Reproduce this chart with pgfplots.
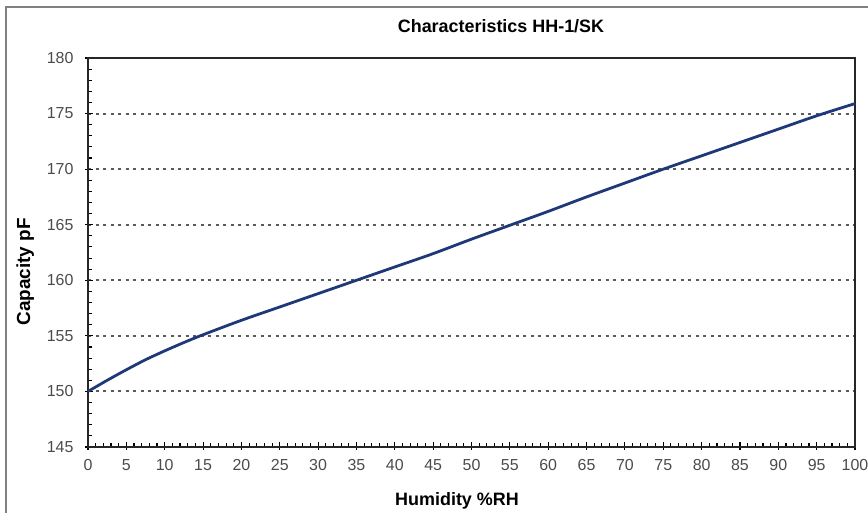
\documentclass[border=0pt]{standalone}
\usepackage{fontspec}
\setmainfont{Liberation Sans}
\usepackage{pgfplots}
\pgfplotsset{compat=1.18}
\definecolor{curve}{RGB}{31,56,120}
\definecolor{tickgray}{RGB}{75,75,75}
\definecolor{framegray}{RGB}{128,128,128}
\definecolor{gridgray}{RGB}{90,90,90}
\begin{document}
\begin{tikzpicture}[x=1bp,y=1bp]
\path[use as bounding box] (0,0) rectangle (868,-513);
\draw[line width=2bp, color=framegray] (6,-513) -- (6,-7) -- (868,-7);
\begin{axis}[
  at={(88bp,-447bp)}, anchor=south west,
  scale only axis, width=767bp, height=389bp,
  xmin=0, xmax=100, ymin=145, ymax=180,
  xtick={0,5,...,100}, ytick={145,150,...,180},
  minor x tick num=4, minor y tick num=4,
  tick pos=left, tick align=inside,
  major tick length=8bp, minor tick length=4bp,
  major x tick style={yshift=-3bp}, major y tick style={xshift=-3bp},
  ymajorgrids,
  grid style={line width=2bp, color=gridgray, dash pattern=on 3bp off 4.5bp},
  axis line style={line width=1.4bp, black!85},
  tick style={line width=1.1bp, black},
  ticklabel style={font=\fontsize{16}{16}\selectfont, text=tickgray},
  /pgf/number format/assume math mode=true,
  xticklabel style={yshift=-9bp},
  yticklabel style={xshift=-11bp},
  clip=false,
]
\addplot[smooth, line width=2.8bp, color=curve] coordinates {
(0,150) (2.5,151.0) (5,151.95) (7.5,152.85) (10,153.65) (12.5,154.4) (15,155.1) (20,156.4)
(25,157.6) (30,158.8) (35,160.0) (40,161.2) (45,162.4) (50,163.7) (55,164.95)
(60,166.2) (65,167.5) (70,168.75) (75,170.0) (80,171.2) (85,172.4) (90,173.6)
(95,174.8) (100,175.9)
};
\end{axis}
\node[font=\bfseries\fontsize{18}{18}\selectfont, anchor=base] at (501,-33) {Characteristics HH-1/SK};
\node[font=\bfseries\fontsize{18}{18}\selectfont, anchor=base] at (457,-505) {Humidity \%RH};
\node[font=\bfseries\fontsize{19}{19}\selectfont, anchor=base, rotate=90] at (30,-272) {Capacity pF};
\end{tikzpicture}
\end{document}
